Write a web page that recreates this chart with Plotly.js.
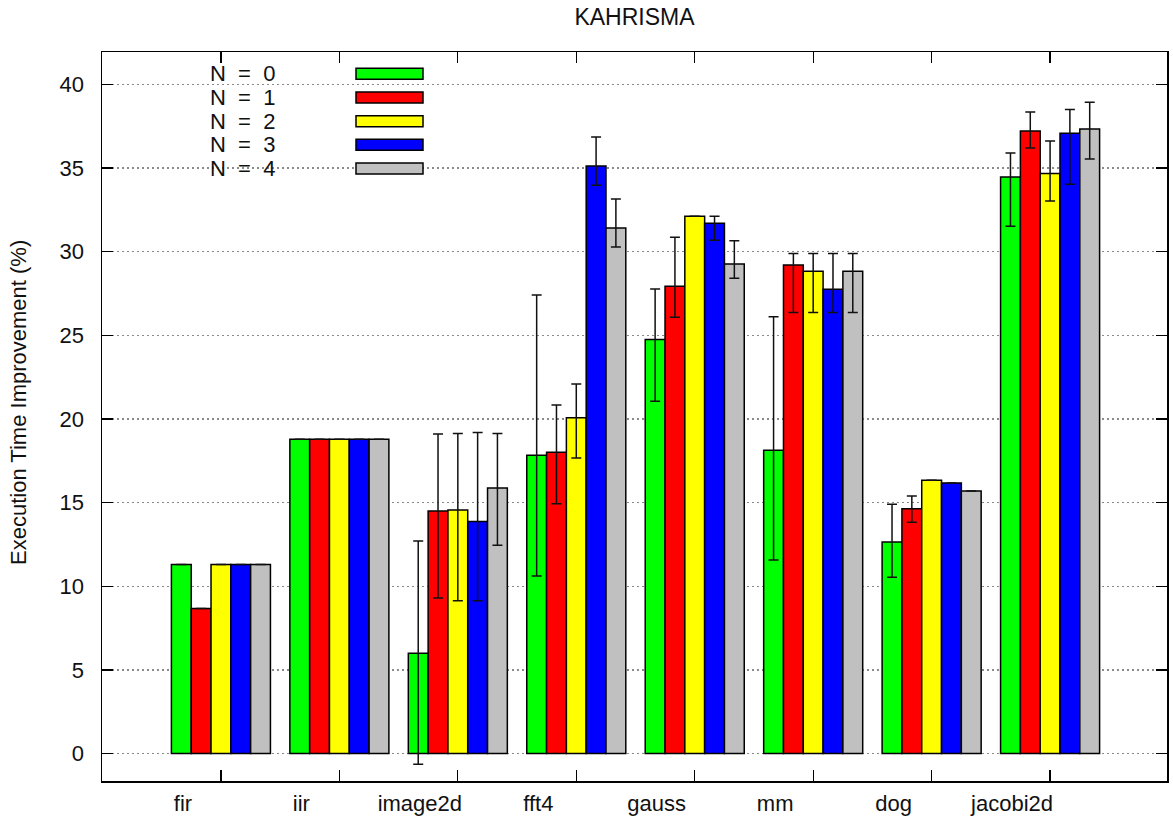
<!DOCTYPE html>
<html>
<head>
<meta charset="utf-8">
<script src="https://cdn.plot.ly/plotly-3.0.1.min.js"></script>
<style>html,body{margin:0;padding:0;background:#fff;}#chart{width:1173px;height:821px;}</style>
</head>
<body>
<div id="chart"></div>
<script>
// ---- data ----
const categories = ['fir', 'iir', 'image2d', 'fft4', 'gauss', 'mm', 'dog', 'jacobi2d'];
const seriesNames = ['N\u00a0\u00a0=\u00a0\u00a00', 'N\u00a0\u00a0=\u00a0\u00a01', 'N\u00a0\u00a0=\u00a0\u00a02', 'N\u00a0\u00a0=\u00a0\u00a03', 'N\u00a0\u00a0=\u00a0\u00a04'];
const seriesColors = ['#00ff00', '#ff0000', '#ffff00', '#0000ff', '#c0c0c0'];

const n0 = [11.30, 18.79, 6.00, 17.83, 24.76, 18.13, 12.65, 34.47];
const n0Plus = [0, 0, 6.71, 9.58, 3.01, 7.99, 2.25, 1.43];
const n0Minus = [0, 0, 6.64, 7.21, 3.70, 6.56, 2.11, 2.95];

const n1 = [8.67, 18.79, 14.50, 18.01, 27.93, 29.21, 14.64, 37.22];
const n1Plus = [0, 0, 4.60, 2.83, 2.93, 0.68, 0.76, 1.13];
const n1Minus = [0, 0, 5.20, 3.07, 1.85, 2.85, 0.81, 1.02];

const n2 = [11.30, 18.79, 14.56, 20.08, 32.12, 28.83, 16.34, 34.67];
const n2Plus = [0, 0, 4.57, 2.01, 0, 1.06, 0, 1.95];
const n2Minus = [0, 0, 5.42, 2.41, 0, 2.47, 0, 1.64];

const n3 = [11.30, 18.79, 13.87, 35.12, 31.70, 27.75, 16.17, 37.08];
const n3Plus = [0, 0, 5.32, 1.74, 0.42, 2.14, 0, 1.43];
const n3Minus = [0, 0, 4.73, 1.15, 1.02, 1.39, 0, 3.05];

const n4 = [11.30, 18.79, 15.88, 31.42, 29.27, 28.83, 15.70, 37.34];
const n4Plus = [0, 0, 3.25, 1.73, 1.39, 1.06, 0, 1.59];
const n4Minus = [0, 0, 3.43, 1.14, 0.86, 2.47, 0, 1.80];

const yTickVals = [0, 5, 10, 15, 20, 25, 30, 35, 40];
const titleText = 'KAHRISMA';
const yTitleText = 'Execution Time Improvement (%)';

// ---- build ----
const values = [n0, n1, n2, n3, n4];
const plus = [n0Plus, n1Plus, n2Plus, n3Plus, n4Plus];
const minus = [n0Minus, n1Minus, n2Minus, n3Minus, n4Minus];

const FONT = '"Liberation Sans", Arial, Helvetica, sans-serif';
const TXT = '#111111';

const traces = values.map((v, i) => ({
  type: 'bar',
  name: seriesNames[i],
  x: categories,
  y: v,
  marker: {color: seriesColors[i], line: {color: '#000000', width: 1.5}},
  error_y: {type: 'data', symmetric: false, array: plus[i], arrayminus: minus[i],
            color: '#111111', thickness: 1.5, width: 5},
  showlegend: false
}));

// plot-area geometry in pixels (for legend placement)
const W = 1173, H = 821;
const mL = 102, mR = 6, mT = 52, mB = 40;
const pw = W - mL - mR, ph = H - mT - mB;
const px = x => (x - mL) / pw;
const py = y => (H - mB - y) / ph;

const shapes = [{
  type: 'rect', xref: 'paper', yref: 'paper', layer: 'between',
  x0: 0.004, x1: px(437), y0: py(181), y1: 0.996,
  fillcolor: '#ffffff', line: {width: 0}
}];
const annotations = [{
  xref: 'paper', yref: 'paper', x: px(18), y: py(403), textangle: -90,
  text: yTitleText, showarrow: false, xanchor: 'center', yanchor: 'middle',
  font: {family: FONT, size: 22, color: TXT}
}];
seriesNames.forEach((nm, i) => {
  const cy = 73.8 + i * 23.68;
  annotations.push({
    xref: 'paper', yref: 'paper', x: px(277), y: py(cy), text: nm, showarrow: false,
    xanchor: 'right', yanchor: 'middle', font: {family: FONT, size: 22, color: TXT}
  });
  shapes.push({
    type: 'rect', xref: 'paper', yref: 'paper', layer: 'above',
    x0: px(356), x1: px(423), y0: py(cy + 5.5), y1: py(cy - 5.5),
    fillcolor: seriesColors[i], line: {color: '#000000', width: 1.5}
  });
});

const layout = {
  width: W, height: H,
  margin: {l: mL, r: mR, t: mT, b: mB, pad: 0},
  paper_bgcolor: '#ffffff', plot_bgcolor: '#ffffff',
  font: {family: FONT, size: 22, color: TXT},
  title: {text: titleText, x: 0.5, xref: 'paper', y: 1 - 16.5 / H, yanchor: 'middle',
          font: {family: FONT, size: 23, color: TXT}},
  barmode: 'group', bargap: 0.164, bargroupgap: 0,
  xaxis: {
    type: 'category', range: [-1.004, 7.987],
    showline: true, linecolor: '#000000', linewidth: 1.5, mirror: 'ticks',
    ticks: 'inside', ticklen: 11, tickwidth: 1.2, tickcolor: '#000000',
    showgrid: false, zeroline: false,
    ticklabelshift: -38, ticklabelstandoff: 2,
    tickfont: {family: FONT, size: 22, color: TXT}
  },
  yaxis: {
    range: [-1.64, 41.94], tickmode: 'array', tickvals: yTickVals,
    showline: true, linecolor: '#000000', linewidth: 1.5, mirror: 'ticks',
    ticks: 'inside', ticklen: 11, tickwidth: 1.2, tickcolor: '#000000',
    showgrid: true, gridcolor: '#8a8a8a', gridwidth: 1.2, griddash: '1.5px,3.5px',
    zeroline: false, ticklabelstandoff: 12,
    tickfont: {family: FONT, size: 22, color: TXT}
  },
  shapes: shapes,
  annotations: annotations,
  showlegend: false
};

Plotly.newPlot('chart', traces, layout, {displayModeBar: false, staticPlot: true});
</script>
</body>
</html>
